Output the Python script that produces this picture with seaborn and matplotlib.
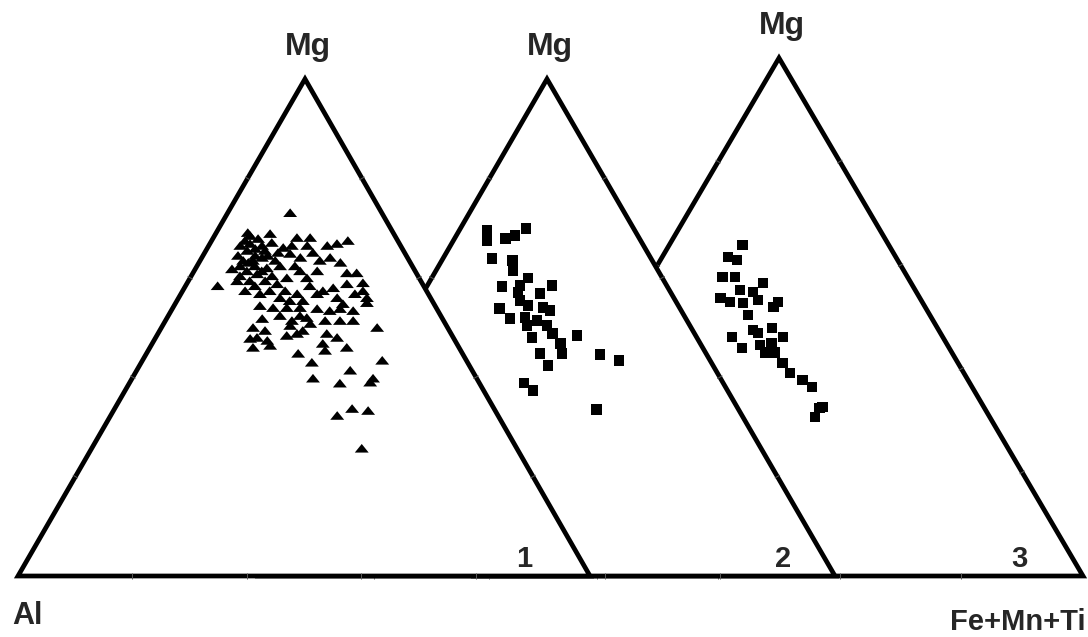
import numpy as np
import pandas as pd
import matplotlib
matplotlib.use("Agg")
import matplotlib.pyplot as plt
import seaborn as sns
from matplotlib.patches import Polygon
from matplotlib.markers import MarkerStyle

sns.set_theme(style="white")
plt.rcParams["font.family"] = ["Liberation Sans", "DejaVu Sans"]

# ---- Compositions (atomic %, Mg and Fe+Mn+Ti; Al is the remainder) ----
# Group 1 (triangles)
mg_1 = [73.1, 68.1, 68.1, 67.1, 68.5, 66.9, 65.5, 65.9, 63.5, 63.5, 64.1, 62.0, 61.4, 60.8,
        59.4, 58.4, 66.1, 64.9, 64.1, 65.1, 66.5, 66.9, 67.5, 58.8, 60.0, 61.4, 60.0, 61.4,
        64.1, 63.1, 61.0, 61.0, 59.0, 58.8, 58.0, 57.4, 57.4, 56.0, 57.4, 56.0, 55.4, 56.8,
        55.4, 56.8, 56.0, 54.8, 55.0, 54.4, 54.0, 54.0, 54.0, 53.8, 53.4, 53.8, 53.4, 52.0,
        50.8, 49.4, 51.4, 50.0, 50.0, 48.0, 47.4, 46.0, 46.4, 48.4, 48.8, 48.8, 46.8, 48.0,
        45.4, 46.0, 44.8, 43.0, 43.4, 41.4, 39.8, 38.8, 39.0, 39.8, 32.3, 33.7, 33.3, 25.7,
        67.5, 67.9, 65.5, 62.4, 62.4, 63.5, 59.4, 59.4, 57.4, 56.8, 62.4, 62.4, 63.5, 52.4,
        51.4, 51.8, 51.4, 51.4, 56.8, 66.5, 68.9,
        66.5, 69.1, 66.5, 64.5, 64.5, 63.1, 61.4, 60.4, 58.4, 60.4, 57.4, 65.1, 66.5, 64.5,
        61.8, 58.4, 52.4, 50.4, 49.4, 47.8]
fe_1 = [10.9, 14.6, 16.9, 10.7, 6.2, 7.0, 7.2, 8.4, 7.5, 9.2, 10.5, 12.4, 9.2, 11.3,
        8.5, 5.6, 13.2, 15.0, 17.2, 18.9, 20.7, 22.2, 23.8, 15.8, 16.9, 18.5, 20.4, 21.5,
        22.4, 24.7, 26.9, 28.6, 30.7, 28.0, 26.0, 24.5, 31.5, 32.9, 15.2, 17.7, 19.7, 20.3,
        22.0, 23.8, 27.7, 29.3, 33.4, 15.0, 17.5, 19.9, 22.2, 25.3, 27.7, 29.3, 31.8, 24.4,
        25.6, 25.0, 32.8, 37.7, 16.0, 17.7, 19.8, 18.0, 20.8, 22.7, 24.3, 29.5, 29.8, 31.7,
        30.9, 34.4, 26.5, 29.8, 41.9, 37.3, 31.6, 36.8, 42.0, 42.1, 39.6, 41.5, 44.5, 47.2,
        5.8, 7.9, 10.3, 7.5, 10.1, 13.1, 10.7, 13.4, 10.9, 13.8, 14.5, 17.1, 20.9, 19.5,
        22.1, 16.7, 30.5, 27.9, 30.4, 17.2, 9.5,
        5.5, 5.5, 9.3, 11.3, 6.1, 8.6, 11.8, 8.5, 12.1, 14.1, 17.9, 12.8, 14.5, 9.1,
        6.4, 21.7, 23.0, 22.3, 18.4, 16.6]

# Group 2 (squares)
mg_2 = [69.5, 67.5, 67.9, 68.5, 69.9, 63.9, 63.5, 61.4, 60.0, 58.2, 58.4, 58.4, 56.8,
        55.4, 54.4, 53.4, 53.8, 51.8, 52.0, 51.4, 54.0, 50.4, 50.4, 48.0, 48.8, 48.4,
        46.8, 44.8, 44.8, 42.4, 44.6, 43.4, 38.8, 37.3, 33.5, 57.0]
fe_2 = [4.8, 5.8, 8.8, 10.2, 11.4, 8.5, 12.3, 13.4, 16.7, 13.1, 21.7, 16.1, 20.4,
        17.6, 19.5, 23.8, 14.9, 17.7, 20.2, 22.6, 22.3, 21.3, 24.8, 23.4, 26.6, 31.0,
        28.9, 26.4, 30.2, 29.0, 36.9, 40.8, 26.6, 28.9, 41.8, 16.5]

# Group 3 (squares)
mg_3 = [63.9, 61.6, 61.0, 57.7, 57.7, 56.6, 54.8, 53.7, 52.9, 52.7, 53.3, 52.9, 50.4,
        51.9, 46.1, 44.0, 46.9, 47.9, 44.6, 45.0, 46.1, 43.2, 43.1, 41.1, 39.2, 37.8,
        36.5, 32.4, 30.7, 32.6, 55.2, 47.5]
fe_3 = [12.0, 10.8, 12.6, 11.9, 13.9, 19.1, 18.3, 13.5, 15.5, 17.7, 19.9, 23.4, 19.7,
        23.1, 19.2, 21.9, 23.1, 24.9, 24.6, 26.3, 27.6, 26.1, 27.8, 30.0, 32.2, 35.0,
        37.2, 40.5, 40.6, 40.9, 16.0, 22.0]

apex_label = "Mg"
left_label = "Al"
right_label = "Fe+Mn+Ti"
panel_labels = ["1", "2", "3"]

# ---- Triangle frames (Al, Mg, Fe corners) in figure pixel space ----
frames = [
    {"A": (18, 576), "M": (305, 79), "F": (590, 576)},
    {"A": (259, 576), "M": (547, 79), "F": (835, 576)},
    {"A": (475, 576), "M": (779, 58), "F": (1083, 576)},
]


def to_xy(frame, mg, fe):
    mg = np.asarray(mg) / 100.0
    fe = np.asarray(fe) / 100.0
    al = 1.0 - mg - fe
    A, M, F = (np.array(frame[k], dtype=float) for k in ("A", "M", "F"))
    pts = np.outer(al, A) + np.outer(mg, M) + np.outer(fe, F)
    return pts[:, 0], pts[:, 1]


W, H = 1088, 637
fig = plt.figure(figsize=(W / 100, H / 100), dpi=100)
ax = fig.add_axes([0, 0, 1, 1])
ax.set_xlim(0, W)
ax.set_ylim(H, 0)
ax.axis("off")

tri_marker = MarkerStyle(np.array([(-1.0, -0.62), (1.0, -0.62), (0.0, 0.62), (-1.0, -0.62)]))

groups = [(mg_1, fe_1, tri_marker, 100), (mg_2, fe_2, "s", 58), (mg_3, fe_3, "s", 58)]

# Draw back to front: frame 3, then 2, then 1 (each frame is opaque white)
for idx in [2, 1, 0]:
    fr = frames[idx]
    z = 2 * (3 - idx)
    poly = Polygon([fr["A"], fr["M"], fr["F"]], closed=True, facecolor="white",
                   edgecolor="black", linewidth=3.4, joinstyle="miter", zorder=z)
    ax.add_patch(poly)

    # small ticks at 20 % steps along each side
    corners = [np.array(fr[k], float) for k in ("A", "M", "F")]
    for i in range(3):
        p0, p1 = corners[i], corners[(i + 1) % 3]
        d = (p1 - p0) / np.linalg.norm(p1 - p0)
        n = np.array([-d[1], d[0]])
        for t in (0.2, 0.4, 0.6, 0.8):
            c = p0 + (p1 - p0) * t
            ax.plot([c[0] - 3.0 * n[0], c[0] + 3.0 * n[0]],
                    [c[1] - 3.0 * n[1], c[1] + 3.0 * n[1]],
                    color="0.35", lw=0.7, zorder=z + 0.1, solid_capstyle="butt")

    mg, fe, mk, size = groups[idx]
    x, y = to_xy(fr, mg, fe)
    df = pd.DataFrame({"x": x, "y": y})
    sns.scatterplot(data=df, x="x", y="y", ax=ax, marker=mk, s=size, color="black",
                    edgecolor="none", linewidth=0, legend=False, zorder=z + 1)

    ax.text(fr["M"][0] + 3, fr["M"][1] - 24, apex_label, fontsize=23, fontweight="bold",
            ha="center", va="baseline", zorder=10)

ax.set_xlim(0, W)
ax.set_ylim(H, 0)

for lab, xpos in zip(panel_labels, [524, 783, 1019]):
    ax.text(xpos, 567, lab, fontsize=21, fontweight="bold", ha="center", va="baseline",
            zorder=10)

ax.text(12, 624, left_label, fontsize=22, fontweight="bold", ha="left", va="baseline")
ax.text(1086, 630, right_label, fontsize=21, fontweight="bold", ha="right", va="baseline")

fig.savefig("out.png", dpi=100, facecolor="white")
